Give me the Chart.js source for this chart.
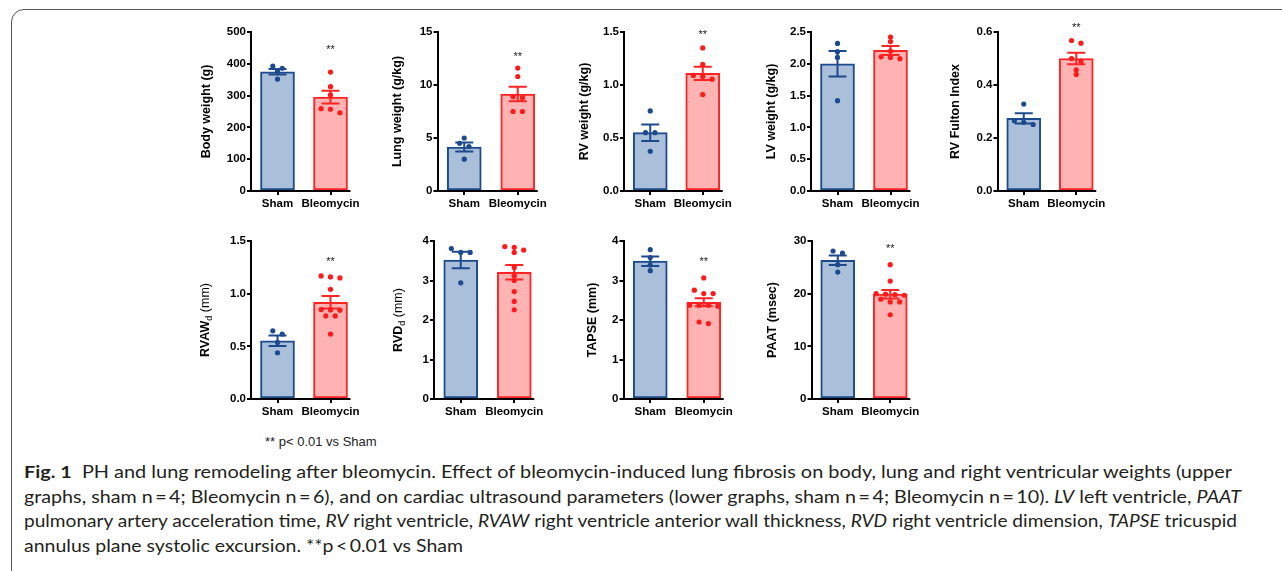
<!DOCTYPE html>
<html><head><meta charset="utf-8">
<script src="https://cdn.jsdelivr.net/npm/chart.js@4.4.0/dist/chart.umd.min.js"></script>
<style>
html,body{margin:0;padding:0;background:#fff;width:1282px;height:571px;overflow:hidden;}
#frame{position:absolute;left:11px;top:9px;width:1400px;height:700px;border:1.6px solid #555;border-radius:13px;box-sizing:border-box;}
canvas{position:absolute;}
.cap{position:absolute;left:24px;white-space:nowrap;font-family:Lato,'Open Sans',sans-serif;font-size:17px;line-height:24px;color:#231f20;transform-origin:0 50%;}
#sig{position:absolute;left:265px;top:434px;font-family:'Liberation Sans',Arial,sans-serif;font-size:13px;line-height:16px;color:#222;white-space:nowrap;}
</style></head><body>
<div id="frame"></div>
<div id="sig">** p&lt; 0.01 vs Sham</div>
<div class="cap" id="c1" style="top:460px"><b>Fig. 1</b>&ensp;PH and lung remodeling after bleomycin. Effect of bleomycin-induced lung fibrosis on body, lung and right ventricular weights (upper</div>
<div class="cap" id="c2" style="top:485px">graphs, sham n&thinsp;=&thinsp;4; Bleomycin n&thinsp;=&thinsp;6), and on cardiac ultrasound parameters (lower graphs, sham n&thinsp;=&thinsp;4; Bleomycin n&thinsp;=&thinsp;10). <i>LV</i> left ventricle, <i>PAAT</i></div>
<div class="cap" id="c3" style="top:509px">pulmonary artery acceleration time, <i>RV</i> right ventricle, <i>RVAW</i> right ventricle anterior wall thickness, <i>RVD</i> right ventricle dimension, <i>TAPSE</i> tricuspid</div>
<div class="cap" id="c4" style="top:534px">annulus plane systolic excursion. **p&thinsp;&lt;&thinsp;0.01 vs Sham</div>
<script>
// ---------------- DATA ----------------
const groups = ['Sham', 'Bleomycin'];

const bodyWeightSham = [393, 386, 376, 352];
const bodyWeightBleo = [374, 328, 302, 259, 257, 246];
const bodyWeightMean = [375, 295];
const bodyWeightSem  = [9, 20];

const lungWeightSham = [5.0, 4.5, 4.2, 3.0];
const lungWeightBleo = [11.6, 10.8, 8.9, 8.8, 7.5, 7.5];
const lungWeightMean = [4.15, 9.15];
const lungWeightSem  = [0.43, 0.69];

const rvWeightSham = [0.755, 0.55, 0.55, 0.375];
const rvWeightBleo = [1.35, 1.195, 1.09, 1.08, 1.055, 0.91];
const rvWeightMean = [0.55, 1.11];
const rvWeightSem  = [0.078, 0.063];

const lvWeightSham = [2.32, 2.19, 2.10, 1.42];
const lvWeightBleo = [2.42, 2.35, 2.20, 2.11, 2.10, 2.08];
const lvWeightMean = [2.0, 2.21];
const lvWeightSem  = [0.2, 0.07];

const fultonSham = [0.328, 0.265, 0.259, 0.251];
const fultonBleo = [0.568, 0.558, 0.50, 0.49, 0.457, 0.44];
const fultonMean = [0.274, 0.50];
const fultonSem  = [0.019, 0.022];

const rvawSham = [0.647, 0.616, 0.537, 0.439];
const rvawBleo = [1.168, 1.159, 1.149, 1.042, 0.849, 0.846, 0.843, 0.789, 0.789, 0.616];
const rvawMean = [0.553, 0.918];
const rvawSem  = [0.05, 0.06];

const rvdSham = [3.81, 3.71, 3.71, 2.94];
const rvdBleo = [3.86, 3.84, 3.77, 3.71, 3.33, 3.12, 3.0, 2.72, 2.47, 2.26];
const rvdMean = [3.52, 3.21];
const rvdSem  = [0.21, 0.185];

const tapseSham = [3.78, 3.58, 3.39, 3.25];
const tapseBleo = [3.065, 2.754, 2.67, 2.67, 2.375, 2.375, 2.375, 2.35, 1.95, 1.91];
const tapseMean = [3.49, 2.45];
const tapseSem  = [0.12, 0.1];

const paatSham = [28.1, 27.7, 25.5, 24.1];
const paatBleo = [25.5, 22.4, 20.0, 19.9, 19.8, 19.7, 18.95, 18.44, 18.44, 16.0];
const paatMean = [26.35, 19.9];
const paatSem  = [0.9, 0.8];

const significance = ['', '**'];

// ---------------- PANELS (layout) ----------------
const panels = [
  {title:'Body weight (g)', sham:bodyWeightSham, bleo:bodyWeightBleo, mean:bodyWeightMean, sem:bodyWeightSem, max:500, step:100, dec:0, sigAt:443, axisX:251, catW:53, top:32, bottom:191, titleX:206},
  {title:'Lung weight (g/kg)', sham:lungWeightSham, bleo:lungWeightBleo, mean:lungWeightMean, sem:lungWeightSem, max:15, step:5, dec:0, sigAt:12.66, axisX:437.5, catW:53.5, top:32, bottom:191, titleX:397.5},
  {title:'RV weight (g/kg)', sham:rvWeightSham, bleo:rvWeightBleo, mean:rvWeightMean, sem:rvWeightSem, max:1.5, step:0.5, dec:1, sigAt:1.47, axisX:624, catW:52.5, top:32, bottom:191, titleX:584},
  {title:'LV weight (g/kg)', sham:lvWeightSham, bleo:lvWeightBleo, mean:lvWeightMean, sem:lvWeightSem, max:2.5, step:0.5, dec:1, sigAt:null, axisX:811, catW:53, top:32, bottom:191, titleX:771},
  {title:'RV Fulton Index', sham:fultonSham, bleo:fultonBleo, mean:fultonMean, sem:fultonSem, max:0.6, step:0.2, dec:1, sigAt:0.615, axisX:997.5, catW:52.5, top:32, bottom:191, titleX:955},
  {title:['RVAW','d',' (mm)'], sham:rvawSham, bleo:rvawBleo, mean:rvawMean, sem:rvawSem, max:1.5, step:0.5, dec:1, sigAt:1.30, axisX:251, catW:53, top:241, bottom:399, titleX:205},
  {title:['RVD','d',' (mm)'], sham:rvdSham, bleo:rvdBleo, mean:rvdMean, sem:rvdSem, max:4, step:1, dec:0, sigAt:null, axisX:434, catW:53.5, top:241, bottom:399, titleX:398},
  {title:'TAPSE (mm)', sham:tapseSham, bleo:tapseBleo, mean:tapseMean, sem:tapseSem, max:4, step:1, dec:0, sigAt:3.47, axisX:623.5, catW:53.5, top:241, bottom:399, titleX:592},
  {title:'PAAT (msec)', sham:paatSham, bleo:paatBleo, mean:paatMean, sem:paatSem, max:30, step:10, dec:0, sigAt:28.5, axisX:811.5, catW:52.5, top:241, bottom:399, titleX:772},
];

// ---------------- STYLE ----------------
const FONT = "'Liberation Sans', Arial, Helvetica, sans-serif";
const fills   = ['#aabfd9', '#ffb3b3'];
const borders = ['#1d4a8c', '#ff2424'];
const dotCols = ['#1d4a8c', '#ff1a1a'];
const TITLE_FS = 12.5, TITLE_LH = TITLE_FS * 1.2, TITLE_PAD = 4;
const XH = 26, PAD_TOP = 28;

Chart.defaults.font.family = FONT;
Chart.defaults.color = '#000';

function makePanel(p, idx) {
  const canvas = document.createElement('canvas');
  const left = Math.round(p.titleX - TITLE_PAD - TITLE_LH / 2);
  const top = p.top - PAD_TOP;
  const right = p.axisX + 2 * p.catW;
  const W = Math.ceil(right - left + 14);
  const H = p.bottom - top + XH;
  canvas.width = W; canvas.height = H;
  canvas.style.left = left + 'px'; canvas.style.top = top + 'px';
  canvas.style.width = W + 'px'; canvas.style.height = H + 'px';
  document.body.appendChild(canvas);
  const yWidth = p.axisX - left;
  const simpleTitle = typeof p.title === 'string';

  const dotData = [];
  const dotColors = [];
  p.sham.forEach(v => { dotData.push({x: groups[0], y: v}); dotColors.push(dotCols[0]); });
  p.bleo.forEach(v => { dotData.push({x: groups[1], y: v}); dotColors.push(dotCols[1]); });

  const panelPlugin = {
    id: 'panel' + idx,
    beforeDatasetsDraw(chart) {
      // arrange dots of each group side by side when they overlap (scatter-dot layout)
      const meta = chart.getDatasetMeta(1);
      const ds = chart.data.datasets[1].data;
      const xs = chart.scales.x;
      const SP = 9.4, TH = 4.2;
      groups.forEach((gname, g) => {
        const items = [];
        meta.data.forEach((el, i) => { if (ds[i].x === gname) items.push(el); });
        items.sort((a, b) => a.y - b.y);
        const rows = [];
        items.forEach(el => {
          const r = rows[rows.length - 1];
          if (r && el.y - r[0].y < TH) r.push(el); else rows.push([el]);
        });
        const cx = xs.getPixelForValue(g);
        rows.forEach(r => r.forEach((el, k) => { el.x = cx + (k - (r.length - 1) / 2) * SP; }));
      });
    },
    afterDatasetDraw(chart, args) {
      if (args.index !== 0) return;
      const ctx = chart.ctx, ys = chart.scales.y;
      const bars = chart.getDatasetMeta(0).data;
      ctx.save();
      ctx.lineWidth = 2;
      bars.forEach((bar, g) => {
        const m = p.mean[g], s = p.sem[g];
        const yHi = ys.getPixelForValue(m + s), yLo = ys.getPixelForValue(m - s);
        const cx = bar.x, hw = 9;
        ctx.strokeStyle = borders[g];
        ctx.beginPath();
        ctx.moveTo(cx, yHi); ctx.lineTo(cx, yLo);
        ctx.moveTo(cx - hw, yHi); ctx.lineTo(cx + hw, yHi);
        ctx.moveTo(cx - hw, yLo); ctx.lineTo(cx + hw, yLo);
        ctx.stroke();
      });
      ctx.restore();
    },
    afterDatasetsDraw(chart) {
      const ctx = chart.ctx, ca = chart.chartArea;
      const bars = chart.getDatasetMeta(0).data;
      const last = bars[bars.length - 1];
      ctx.save();
      ctx.strokeStyle = '#000'; ctx.lineWidth = 2;
      ctx.beginPath();
      ctx.moveTo(ca.left - 1, ca.bottom);
      ctx.lineTo(last.x + last.width / 2 + 3, ca.bottom);
      ctx.stroke();
      ctx.restore();
    },
    afterDraw(chart) {
      const ctx = chart.ctx, ys = chart.scales.y, xs = chart.scales.x;
      ctx.save();
      if (p.sigAt !== null) {
        ctx.fillStyle = '#222';
        ctx.font = '11px ' + FONT;
        ctx.textAlign = 'center'; ctx.textBaseline = 'middle';
        ctx.fillText(significance[1], xs.getPixelForValue(1), ys.getPixelForValue(p.sigAt));
      }
      if (!simpleTitle) {
        const cy = (chart.chartArea.top + chart.chartArea.bottom) / 2;
        const cx = TITLE_PAD + TITLE_LH / 2;
        const parts = [
          {t: p.title[0], f: 'bold ' + TITLE_FS + 'px ' + FONT, dy: 0},
          {t: p.title[1], f: '9px ' + FONT, dy: 4},
          {t: p.title[2], f: TITLE_FS + 'px ' + FONT, dy: 0},
        ];
        let total = 0;
        parts.forEach(pt => { ctx.font = pt.f; pt.w = ctx.measureText(pt.t).width; total += pt.w; });
        ctx.translate(cx, cy);
        ctx.rotate(-Math.PI / 2);
        ctx.fillStyle = '#000'; ctx.textBaseline = 'middle'; ctx.textAlign = 'left';
        let x = -total / 2;
        parts.forEach(pt => { ctx.font = pt.f; ctx.fillText(pt.t, x, pt.dy); x += pt.w; });
      }
      ctx.restore();
    }
  };

  new Chart(canvas, {
    data: {
      labels: groups,
      datasets: [
        {type: 'bar', data: p.mean, backgroundColor: fills, borderColor: borders, borderWidth: 2,
         borderSkipped: false, barThickness: 34, order: 2},
        {type: 'scatter', data: dotData, pointBackgroundColor: dotColors, pointBorderWidth: 0,
         pointRadius: 2.6, order: 0}
      ]
    },
    options: {
      responsive: false, animation: false, events: [],
      layout: {padding: {top: PAD_TOP, left: 0, bottom: 0, right: W - (right - left)}},
      plugins: {legend: {display: false}, tooltip: {enabled: false}},
      scales: {
        x: {
          type: 'category', offset: true,
          grid: {display: true, drawOnChartArea: false, drawTicks: true, tickLength: 4, color: '#000', lineWidth: 2, offset: false},
          border: {display: false},
          ticks: {color: '#000', font: {size: 11.5, weight: 'bold'}, padding: 2, maxRotation: 0, autoSkip: false},
          afterFit: s => { s.height = XH; }
        },
        y: {
          min: 0, max: p.max,
          grid: {drawOnChartArea: false, drawTicks: true, tickLength: 4, color: '#000', lineWidth: 2},
          border: {display: true, color: '#000', width: 2},
          ticks: {stepSize: p.step, color: '#000', font: {size: 11.5, weight: 'bold'}, padding: 1,
                  callback: v => Number(v).toFixed(p.dec)},
          title: {display: simpleTitle, text: simpleTitle ? p.title : '', color: '#000',
                  font: {size: TITLE_FS, weight: 'bold'}, padding: {top: TITLE_PAD, bottom: TITLE_PAD}},
          afterFit: s => { s.width = yWidth; }
        }
      }
    },
    plugins: [panelPlugin]
  });
}

panels.forEach(makePanel);

// fit caption lines to the reference line lengths
const capEnds = {c1: 1232, c2: 1241, c3: 1237, c4: 463};
Object.keys(capEnds).forEach(id => {
  const el = document.getElementById(id);
  const w = el.getBoundingClientRect().width;
  el.style.transform = 'scaleX(' + ((capEnds[id] - 24) / w) + ')';
});
</script>
</body></html>
